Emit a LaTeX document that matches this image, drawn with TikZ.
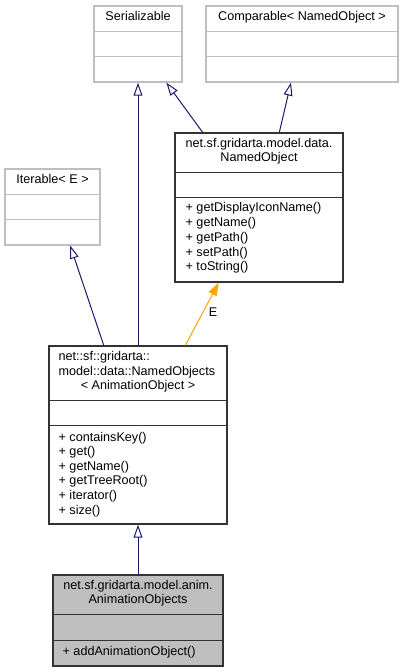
\documentclass[tikz,border=0pt]{standalone}
\usepackage{fontspec}
\setmainfont{Liberation Sans}
\usetikzlibrary{positioning}
\usetikzlibrary{arrows.meta}
\usetikzlibrary{calc}
\usetikzlibrary{fit}

\definecolor{edgeblue}{HTML}{191970}
\definecolor{boxgray}{HTML}{BFBFBF}
\definecolor{edgeorange}{HTML}{FFA500}

\begin{document}
\begin{tikzpicture}[x=0.8pt,y=-0.8pt,
    extbox/.style={draw=boxgray, line width=1pt, inner sep=0pt},
    docbox/.style={draw=black!80, line width=1pt, inner sep=0pt},
    txt/.style={inner sep=0pt, font=\fontsize{10.1}{12}\selectfont, text height=7.3pt, text depth=1.8pt},
    inherit/.style={draw=edgeblue, line width=0.8pt, -{Triangle[open, length=10.4pt, width=7pt]}},
    uses/.style={draw=edgeorange, line width=0.8pt, -{Triangle[length=10.4pt, width=7pt]}}]
    \useasboundingbox (0,0) rectangle (403,672);

    % the class boxes
    \node[extbox, fit={(94,6) (182,82)}] (serial) {};
    \node[extbox, fit={(206,6) (398,82)}] (comp) {};
    \node[extbox, fit={(5,169) (100,245)}] (iter) {};
    \node[docbox, fit={(175,133) (343,282)}] (nobj) {};
    \node[docbox, fit={(49,346) (227,524)}] (nobjs) {};
    \node[docbox, fill=boxgray, fit={(53,575) (223,666)}] (anim) {};

    % compartment lines
    \foreach \b/\ya/\yb in {serial/26/51, comp/26/51, iter/26/51}
        {\draw[boxgray, line width=1pt] ($(\b.north west)+(0,\ya)$) -- ($(\b.north east)+(0,\ya)$)
            ($(\b.north west)+(0,\yb)$) -- ($(\b.north east)+(0,\yb)$);}
    \foreach \b/\ya/\yb in {nobj/40/65, nobjs/55/80, anim/40/66}
        {\draw[black!80, line width=1pt] ($(\b.north west)+(0,\ya)$) -- ($(\b.north east)+(0,\ya)$)
            ($(\b.north west)+(0,\yb)$) -- ($(\b.north east)+(0,\yb)$);}

    % names
    \node[txt] (serialname) at ($(serial.north)+(0,12)$) {Serializable};
    \node[txt] (compname) at ($(comp.north)+(0,12)$) {Comparable< NamedObject >};
    \node[txt] (itername) at ($(iter.north)+(0,12)$) {Iterable< E >};
    \node[txt] (nobjname) at ($(nobj.north)+(0,12)$) {net.sf.gridarta.model.data.};
    \node[txt] (nobjname2) at ($(nobj.north)+(0,25.5)$) {NamedObject};
    \node[txt, anchor=west] (nobjsname) at ($(nobjs.north west)+(10,12)$) {net::sf::gridarta::};
    \node[txt, anchor=west] (nobjsname2) at ($(nobjs.north west)+(10,26.5)$) {model::data::NamedObjects};
    \node[txt] (nobjsname3) at ($(nobjs.north)+(0,41)$) {< AnimationObject >};
    \node[txt] (animname) at ($(anim.north)+(0,12)$) {net.sf.gridarta.model.anim.};
    \node[txt] (animname2) at ($(anim.north)+(0,26)$) {AnimationObjects};

    % methods
    \foreach \m [count=\i] in {getDisplayIconName(), getName(), getPath(), setPath(), toString()}
        {\node[txt, anchor=west] (nobjm\i) at ($(nobj.north west)+(11,61+14.8*\i)$) {+ \m};}
    \foreach \m [count=\i] in {containsKey(), get(), getName(), getTreeRoot(), iterator(), size()}
        {\node[txt, anchor=west] (nobjsm\i) at ($(nobjs.north west)+(10,77.6+14.6*\i)$) {+ \m};}
    \node[txt, anchor=west] (animm1) at ($(anim.north west)+(10,78)$) {+ addAnimationObject()};

    % inheritance and usage
    \draw[inherit] (nobjs.north) -- (serial.south);
    \draw[inherit] ($(nobj.north west)!0.167!(nobj.north east)$) -- ($(serial.south west)!0.818!(serial.south east)$);
    \draw[inherit] ($(nobj.north west)!0.62!(nobj.north east)$) -- ($(comp.south west)!0.443!(comp.south east)$);
    \draw[inherit] ($(nobjs.north west)!0.309!(nobjs.north east)$) -- ($(iter.south west)!0.684!(iter.south east)$);
    \draw[uses] ($(nobjs.north west)!0.764!(nobjs.north east)$) -- ($(nobj.south west)!0.262!(nobj.south east)$);
    \node[txt] (elabel) at (213,313) {E};
    \draw[inherit] (anim.north) -- (nobjs.south);
\end{tikzpicture}
\end{document}
